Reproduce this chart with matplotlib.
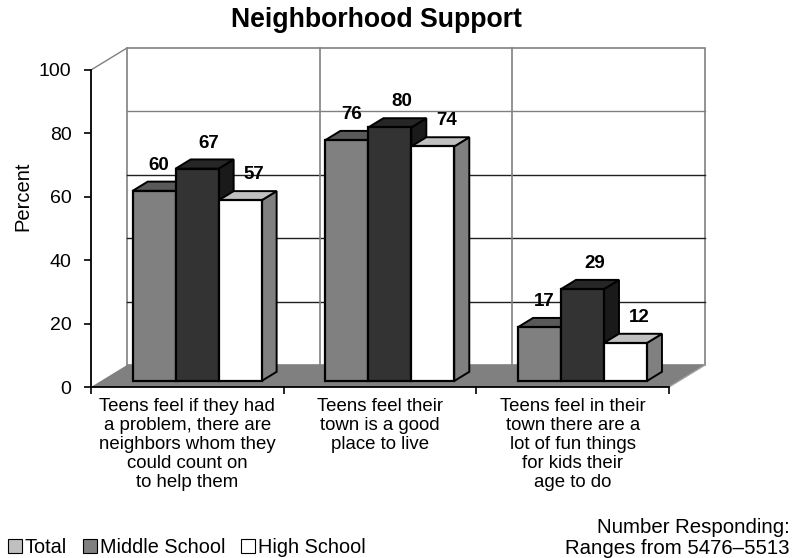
import matplotlib
matplotlib.use("Agg")
import matplotlib.pyplot as plt
from matplotlib.patches import Polygon, Patch

plt.rcParams['font.family'] = ['Liberation Sans', 'DejaVu Sans']

# ---- data ----
categories = [
    "Teens feel if they had\na problem, there are\nneighbors whom they\ncould count on\nto help them",
    "Teens feel their\ntown is a good\nplace to live",
    "Teens feel in their\ntown there are a\nlot of fun things\nfor kids their\nage to do",
]
series_names = ["Total", "Middle School", "High School"]
total = [60, 76, 17]
middle = [67, 80, 29]
high = [57, 74, 12]
yticks = [0, 20, 40, 60, 80, 100]

# ---- styles ----
front_cols = ["#808080", "#333333", "#ffffff"]
top_cols = ["#595959", "#262626", "#c0c0c0"]
side_cols = ["#404040", "#1a1a1a", "#808080"]
legend_cols = ["#c0c0c0", "#808080", "#ffffff"]
label_dx_px = [5, 12, 14]

W, H = 803, 558
fig = plt.figure(figsize=(W / 100, H / 100), dpi=100)

PX = 578 / 3.0      # pixels per x unit
PY = 317 / 100.0    # pixels per y unit
left_px, bottom_px, right_px, top_px = 91, 387, 711, 44
ax = fig.add_axes([left_px / W, (H - bottom_px) / H,
                   (right_px - left_px) / W, (bottom_px - top_px) / H])
ax.set_xlim(0, (right_px - left_px) / PX)
ax.set_ylim(0, (bottom_px - top_px) / PY)

DX, DY = 36 / PX, 22 / PY          # full depth offset (data units)
f0, f1 = 0.27, 0.69                # bar depth range (fractions)
ncat = len(categories)

# floor
ax.add_patch(Polygon([(0, 0), (ncat, 0), (ncat + DX, DY), (DX, DY)],
                     closed=True, facecolor="#808080", edgecolor="none", zorder=1))
ax.plot([ncat, ncat + DX], [0, DY], color="#a0a0a0", lw=1, zorder=1.2)
# back wall
ax.add_patch(Polygon([(DX, DY), (ncat + DX, DY), (ncat + DX, 100 + DY), (DX, 100 + DY)],
                     closed=True, facecolor="white", edgecolor="#808080", lw=1.2, zorder=0.5))
ax.plot([0, DX], [100, 100 + DY], color="#808080", lw=1, zorder=1)
for v in yticks[1:-1]:
    c = "#808080" if v == 80 else "#202020"
    ax.plot([DX, ncat + DX], [v + DY, v + DY], color=c, lw=1, zorder=0.8)
for i in range(1, ncat):
    ax.plot([i + DX, i + DX], [DY, 100 + DY], color="#808080", lw=1.2, zorder=0.8)

# bars
bw = 0.223
ox, oy = f0 * DX, f0 * DY
ddx, ddy = (f1 - f0) * DX, (f1 - f0) * DY
series = [total, middle, high]
for i in range(ncat):
    for s, vals in enumerate(series):
        v = vals[i]
        x0 = i + 0.5 - 1.5 * bw + s * bw + ox
        z = 3 + s
        ax.add_patch(Polygon([(x0 + bw, oy), (x0 + bw + ddx, oy + ddy),
                              (x0 + bw + ddx, oy + v + ddy), (x0 + bw, oy + v)],
                             closed=True, facecolor=side_cols[s], edgecolor="black",
                             lw=1.4, joinstyle="miter", zorder=z))
        ax.add_patch(Polygon([(x0, oy + v), (x0 + bw, oy + v),
                              (x0 + bw + ddx, oy + v + ddy), (x0 + ddx, oy + v + ddy)],
                             closed=True, facecolor=top_cols[s], edgecolor="black",
                             lw=1.4, joinstyle="miter", zorder=z))
        ax.bar(x0, v, width=bw, bottom=oy, align="edge", color=front_cols[s],
               edgecolor="black", linewidth=1.6, zorder=z + 0.1)
        ax.text(x0 + bw / 2 + label_dx_px[s] / PX, oy + v + ddy + 2.5, f"{v}",
                ha="center", va="bottom", fontsize=13.5, fontweight="bold", zorder=10)

# axes styling
for sp in ["top", "right"]:
    ax.spines[sp].set_visible(False)
ax.spines["left"].set_bounds(0, 100)
ax.spines["bottom"].set_bounds(0, ncat)
for sp in ["left", "bottom"]:
    ax.spines[sp].set_linewidth(1.3)
    ax.spines[sp].set_zorder(12)
ax.set_yticks(yticks)
ax.set_yticklabels([str(t) for t in yticks], fontsize=14)
ax.tick_params(axis="y", length=5, width=1.2, pad=9)
ax.set_xticks(list(range(ncat + 1)))
ax.set_xticklabels([])
ax.set_xticks([i + 0.5 for i in range(ncat)], minor=True)
ax.set_xticklabels(categories, minor=True, fontsize=13.4, linespacing=1.15)
ax.tick_params(axis="x", which="major", length=5, width=1.2)
ax.tick_params(axis="x", which="minor", length=0, pad=8)
ax.set_ylabel("Percent", fontsize=14.5)
ax.yaxis.set_label_coords(-59 / (right_px - left_px), 0.555)
ax.set_facecolor("none")

fig.text(376 / W, 1 - 20 / H, "Neighborhood Support", ha="center", va="center",
         fontsize=19.2, fontweight="bold")

handles = [Patch(facecolor=legend_cols[k], edgecolor="black", lw=0.8) for k in range(3)]
fig.legend(handles, series_names, loc="lower left", bbox_to_anchor=(8 / W, 1 / H),
           ncol=3, frameon=False, fontsize=14.3, handlelength=0.7, handleheight=0.7,
           handletextpad=0.15, columnspacing=0.8, borderaxespad=0, borderpad=0)

fig.text(790 / W, 1 - 538 / H, "Number Responding:\nRanges from 5476\u20135513",
         ha="right", va="center", fontsize=14.7, linespacing=1.17)

fig.savefig("out.png", dpi=100)
